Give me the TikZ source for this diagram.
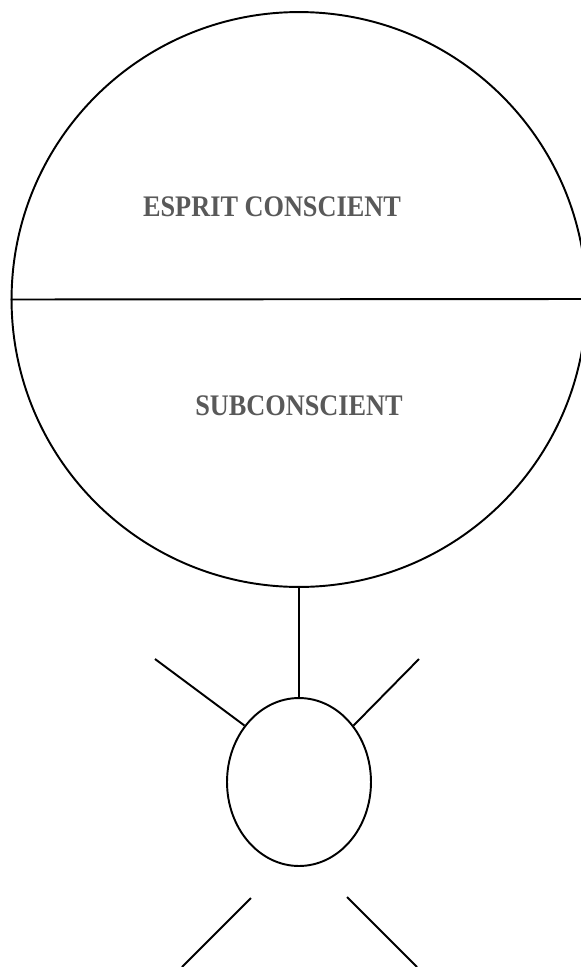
\documentclass[tikz,border=0pt]{standalone}
\usepackage{fontspec}
\setmainfont{Liberation Serif}
\newfontfamily\titrefont[FakeStretch=0.88]{Liberation Serif}
\usepackage{xcolor}
\usetikzlibrary{
    positioning,
    calc,
    shapes.geometric
}
\definecolor{GrisTexte}{HTML}{595959}

\tikzset{
    trait/.style={line width=1.1pt, draw=black},
    titre/.style={text=GrisTexte, font=\titrefont\bfseries\fontsize{17}{19}\selectfont, inner sep=0pt}
}

\begin{document}
\begin{tikzpicture}[x=0.02cm, y=-0.02cm]
                \useasboundingbox (0,0) rectangle (581,967);
                % l'esprit
                \node[
                    trait,
                    circle,
                    minimum size=11.5cm,
                    inner sep=0pt
                ] (esprit) at (299,299.5) {};
                \coordinate (bord) at (581,299);
                \draw[trait] (esprit.west) -- (bord);
                \node[titre] (conscient) at (272,207) {ESPRIT CONSCIENT};
                \node[titre] (subconscient) at (299,405.5) {SUBCONSCIENT};
                % le corps
                \node[
                    trait,
                    ellipse,
                    minimum width=2.88cm,
                    minimum height=3.36cm,
                    inner sep=0pt
                ] (corps) at (299,782) {};
                \draw[trait] (esprit.south) -- (corps.north);
                % bras et jambes
                \coordinate (mainG) at (155,659);
                \coordinate (mainD) at (419,659);
                \coordinate (hancheG) at (251,898);
                \coordinate (piedG) at (182,967);
                \coordinate (hancheD) at (347,897);
                \coordinate (piedD) at (417,967);
                \draw[trait] (mainG) -- (corps.134.5);
                \draw[trait] (mainD) -- (corps.46.6);
                \draw[trait] (hancheG) -- (piedG);
                \draw[trait] (hancheD) -- (piedD);
            \end{tikzpicture}
\end{document}
